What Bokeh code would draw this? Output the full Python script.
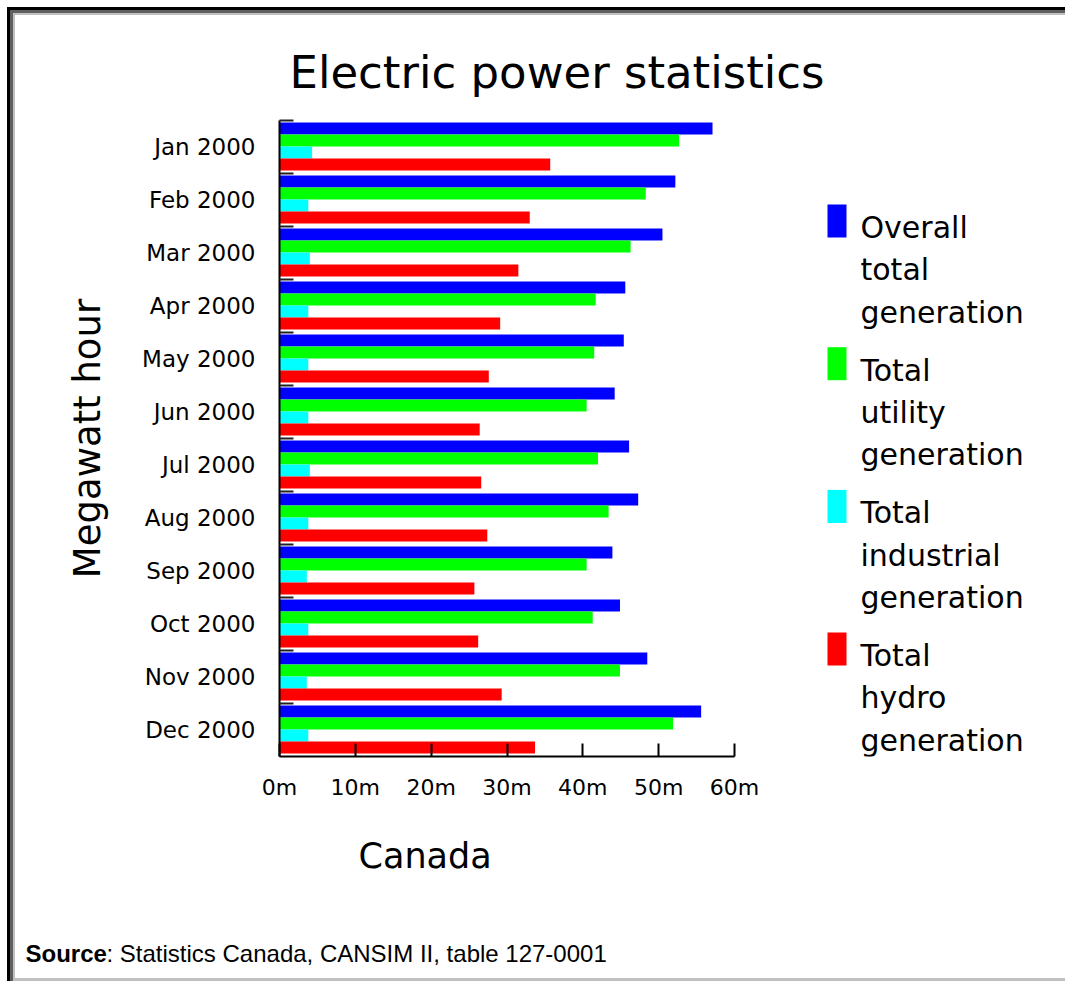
import textwrap
from bokeh.plotting import figure
from bokeh.layouts import column, row
from bokeh.models import Range1d, FixedTicker, PrintfTickFormatter
from bokeh.core.properties import value
from bokeh.embed import file_html
from bokeh.resources import INLINE

# ---------------- data ----------------
months = ["Jan 2000", "Feb 2000", "Mar 2000", "Apr 2000", "May 2000", "Jun 2000",
          "Jul 2000", "Aug 2000", "Sep 2000", "Oct 2000", "Nov 2000", "Dec 2000"]
overall = [57.1, 52.2, 50.5, 45.6, 45.4, 44.2, 46.1, 47.3, 43.9, 44.9, 48.5, 55.6]
utility = [52.7, 48.3, 46.3, 41.7, 41.5, 40.5, 42.0, 43.4, 40.5, 41.3, 44.9, 51.9]
industrial = [4.3, 3.8, 4.0, 3.8, 3.8, 3.8, 4.0, 3.8, 3.6, 3.8, 3.6, 3.8]
hydro = [35.7, 33.0, 31.5, 29.1, 27.6, 26.4, 26.6, 27.4, 25.7, 26.2, 29.3, 33.7]
series_names = ["Overall total generation", "Total utility generation",
                "Total industrial generation", "Total hydro generation"]
series_colors = ["#0000ff", "#00ff00", "#00ffff", "#ff0000"]
x_ticks = [0, 10, 20, 30, 40, 50, 60]
title_text = "Electric power statistics"
x_title = "Canada"
y_title = "Megawatt hour"
source_bold = "Source"
source_rest = ": Statistics Canada, CANSIM II, table 127-0001"

series_values = [overall, utility, industrial, hydro]

# ---------------- layout constants (page pixels) ----------------
ORIG = 7                      # page offset of the framed panel
PAGE_W, PAGE_H = 1065, 981
W = PAGE_W - ORIG
SPLIT = 815                   # page y where the bottom strip begins
H1 = SPLIT - ORIG
H2 = PAGE_H - SPLIT
F_LEFT, F_TOP, F_BOTTOM, F_RIGHT = 279, 120, 756, 1050
PX_PER_X = (734 - 279) / 60.0
PX_PER_Y = (F_BOTTOM - F_TOP) / 12.0
x_end = (F_RIGHT - F_LEFT) / PX_PER_X


def dx(px):
    return (px - F_LEFT) / PX_PER_X


def dy(py):
    return (py - F_TOP) / PX_PER_Y - 0.5


FONT = "DejaVu Sans"

p = figure(width=W, height=H1,
           x_range=Range1d(0, x_end), y_range=Range1d(11.5, -0.5),
           output_backend="svg", toolbar_location=None,
           min_border_left=F_LEFT - ORIG, min_border_top=F_TOP - ORIG,
           min_border_bottom=SPLIT - F_BOTTOM, min_border_right=PAGE_W - F_RIGHT)
p.border_fill_color = None
p.background_fill_color = "white"
p.outline_line_color = None
p.xgrid.visible = False
p.ygrid.visible = False

# ---------------- bars ----------------
bar_h = 0.226
start_off = 0.038
for k, (vals, col) in enumerate(zip(series_values, series_colors)):
    ys = [i - 0.5 + start_off + bar_h * (k + 0.5) for i in range(len(months))]
    p.hbar(y=ys, left=0, right=vals, height=bar_h, fill_color=col, line_color=None)

# ---------------- axes ----------------
xa = p.xaxis[0]
xa.ticker = FixedTicker(ticks=x_ticks)
xa.formatter = PrintfTickFormatter(format="%dm")
xa.bounds = (0, 60)
xa.axis_line_width = 2
xa.axis_line_color = "#000000"
xa.major_tick_in = 13
xa.major_tick_out = 0
xa.major_tick_line_width = 2
xa.minor_tick_line_color = None
xa.major_label_text_font = FONT
xa.major_label_text_font_size = "22px"
xa.major_label_text_color = "#000000"
xa.major_label_standoff = 18

ya = p.yaxis[0]
ya.ticker = FixedTicker(ticks=list(range(len(months))),
                        minor_ticks=[i - 0.5 for i in range(len(months))])
ya.major_label_overrides = {i: m for i, m in enumerate(months)}
ya.axis_line_width = 2
ya.axis_line_color = "#000000"
ya.major_tick_in = 0
ya.major_tick_out = 0
ya.minor_tick_in = 14
ya.minor_tick_out = 0
ya.minor_tick_line_width = 2
ya.minor_tick_line_color = "#222222"
ya.major_label_text_font = FONT
ya.major_label_text_font_size = "23px"
ya.major_label_text_color = "#000000"
ya.major_label_standoff = 24
ya.axis_label = y_title
ya.axis_label_text_font = FONT
ya.axis_label_text_font_size = "37px"
ya.axis_label_text_font_style = "normal"
ya.axis_label_text_color = "#000000"
ya.axis_label_standoff = 30

# ---------------- title ----------------
p.title.text = title_text
p.title.text_font = FONT
p.title.text_font_size = "45px"
p.title.text_font_style = "normal"
p.title.text_color = "#000000"
p.title.align = "left"
p.title.offset = 10
p.title.standoff = 44

# ---------------- legend (drawn in the frame, right of the axis) ----------------
LEG_TOP0 = 204
LEG_STEP = 142.7
LINE_STEP = 42.3
for k, (name, col) in enumerate(zip(series_names, series_colors)):
    top = LEG_TOP0 + k * LEG_STEP
    p.quad(left=[dx(827)], right=[dx(846)], top=[dy(top)], bottom=[dy(top + 33)],
           fill_color=col, line_color=None)
    lines = textwrap.wrap(name, width=10)
    ys = [dy(top + 23 + j * LINE_STEP) for j in range(len(lines))]
    p.text(x=[dx(860)] * len(lines), y=ys, text=lines,
           text_font=value(FONT), text_font_size="30px",
           text_baseline="middle", text_align="left", text_color="#000000")

# ---------------- bottom strip: x title and source note ----------------
p2 = figure(width=W, height=H2,
            x_range=Range1d(ORIG, PAGE_W), y_range=Range1d(PAGE_H, SPLIT),
            output_backend="svg", toolbar_location=None,
            x_axis_type=None, y_axis_type=None,
            min_border=0, min_border_left=0, min_border_right=0,
            min_border_top=0, min_border_bottom=0)
p2.border_fill_color = None
p2.background_fill_color = None
p2.outline_line_color = None
p2.xgrid.visible = False
p2.ygrid.visible = False
p2.text(x=[358], y=[855], text=[x_title], text_font=value(FONT),
        text_font_size="35px", text_baseline="middle", text_align="left",
        text_color="#000000")
p2.text(x=[25], y=[953], text=[source_bold], text_font=value("Liberation Sans"),
        text_font_size="24px", text_font_style="bold", text_baseline="middle",
        text_align="left", text_color="#000000")
p2.text(x=[106], y=[953], text=[source_rest], text_font=value("Liberation Sans"),
        text_font_size="24px", text_baseline="middle", text_align="left",
        text_color="#000000")

bottom_strip = row(p2, spacing=0)

layout = column(p, bottom_strip, spacing=0, margin=(ORIG, 0, 0, ORIG),
                styles={
                    "background-color": "white",
                    "box-shadow": "inset 3px 3px 0 #000000, inset 6px 6px 0 #606060, "
                                  "inset 8px 8px 0 #c0c0c0, inset 0 -3px 0 #c0c0c0",
                })

open("out.html", "w").write(file_html(layout, INLINE))
